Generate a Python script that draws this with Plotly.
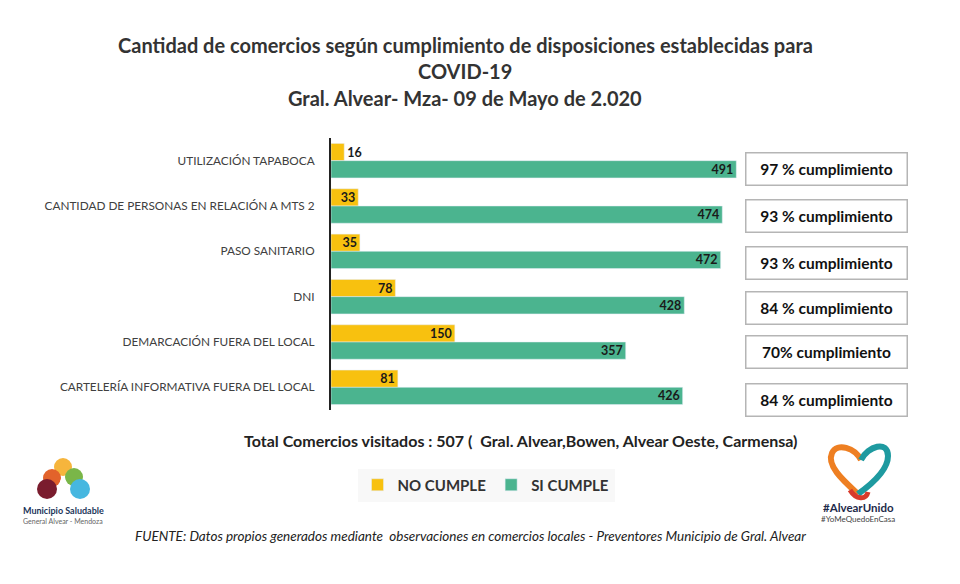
import plotly.graph_objects as go

# %%
categories = [
    "UTILIZACIÓN TAPABOCA",
    "CANTIDAD DE PERSONAS EN RELACIÓN A MTS 2",
    "PASO SANITARIO",
    "DNI",
    "DEMARCACIÓN FUERA DEL LOCAL",
    "CARTELERÍA INFORMATIVA FUERA DEL LOCAL",
]
no_cumple = [16, 33, 35, 78, 150, 81]
si_cumple = [491, 474, 472, 428, 357, 426]
cumplimiento = [
    "97 % cumplimiento",
    "93 % cumplimiento",
    "93 % cumplimiento",
    "84 % cumplimiento",
    "70% cumplimiento",
    "84 % cumplimiento",
]
title_lines = [
    "Cantidad de comercios según cumplimiento de disposiciones establecidas para",
    "COVID-19",
    "Gral. Alvear- Mza- 09 de Mayo de 2.020",
]
total_text = "Total Comercios visitados : 507 (  Gral. Alvear,Bowen, Alvear Oeste, Carmensa)"
fuente_text = "FUENTE: Datos propios generados mediante  observaciones en comercios locales - Preventores Municipio de Gral. Alvear"

W, H = 960, 584
FONT = "Lato"
YELLOW = "#F8C10F"
GREEN = "#4BB48F"
VALUE_FONT = dict(family=FONT, size=12.5, color="#1a1a1a", weight="bold")


def px(x):
    return x / W


def py(y):
    return 1 - y / H


# %%
fig = go.Figure()
fig.add_trace(
    go.Bar(
        y=categories,
        x=no_cumple,
        name="NO CUMPLE",
        orientation="h",
        marker_color=YELLOW,
        text=no_cumple,
        textposition="auto",
        textangle=0,
        insidetextanchor="end",
        constraintext="none",
        textfont=VALUE_FONT,
        insidetextfont=VALUE_FONT,
        outsidetextfont=VALUE_FONT,
        cliponaxis=False,
    )
)
fig.add_trace(
    go.Bar(
        y=categories,
        x=si_cumple,
        name="SI CUMPLE",
        orientation="h",
        marker_color=GREEN,
        text=si_cumple,
        textposition="inside",
        textangle=0,
        insidetextanchor="end",
        constraintext="none",
        insidetextfont=VALUE_FONT,
    )
)

fig.update_layout(
    width=W,
    height=H,
    margin=dict(l=0, r=0, t=0, b=0),
    paper_bgcolor="white",
    plot_bgcolor="white",
    barmode="group",
    bargap=0.24,
    bargroupgap=0,
    font=dict(family=FONT, color="#333333"),
    legend=dict(
        orientation="h",
        x=px(486),
        y=py(485),
        xanchor="center",
        yanchor="middle",
        bgcolor="#f8f8f8",
        font=dict(family=FONT, size=15, color="#333333", weight="bold"),
        itemwidth=30,
        traceorder="normal",
    ),
    xaxis=dict(
        domain=[px(331), px(785)],
        range=[0, 550],
        visible=False,
        automargin=False,
    ),
    yaxis=dict(
        domain=[py(410), py(138)],
        autorange="reversed",
        showline=True,
        linecolor="#222222",
        linewidth=2,
        showgrid=False,
        ticks="",
        ticklabelstandoff=12,
        tickfont=dict(family=FONT, size=11.8, color="#404040"),
        automargin=False,
    ),
)

# titles
for text, yy in zip(title_lines, [45, 71, 98]):
    fig.add_annotation(
        text=text, xref="paper", yref="paper", x=px(465), y=py(yy),
        xanchor="center", yanchor="middle", showarrow=False,
        font=dict(family=FONT, size=20, color="#333333", weight="bold"),
    )

# compliance boxes
box_y = [169, 216, 263, 308, 352, 400]
for text, yy in zip(cumplimiento, box_y):
    fig.add_annotation(
        text=text, xref="paper", yref="paper", x=px(826), y=py(yy),
        xanchor="center", yanchor="middle", showarrow=False,
        width=154, height=25, borderpad=3,
        bordercolor="#b5b5b5", borderwidth=1.5, bgcolor="white",
        font=dict(family=FONT, size=15.5, color="#111111", weight="bold"),
    )

fig.add_annotation(
    text=total_text, xref="paper", yref="paper", x=px(520), y=py(440),
    xanchor="center", yanchor="middle", showarrow=False,
    font=dict(family=FONT, size=16, color="#222222", weight="bold"),
)
fig.add_annotation(
    text=fuente_text, xref="paper", yref="paper", x=px(470), y=py(536),
    xanchor="center", yanchor="middle", showarrow=False,
    font=dict(family=FONT, size=13.5, color="#222222", style="italic"),
)

# left logo: Municipio Saludable
petals = [
    (63, 467, 9, "#F6B53C"),
    (52, 478, 9, "#E2632B"),
    (74, 477, 9, "#7AB648"),
    (47, 489, 10, "#7A1C2E"),
    (80, 489, 10, "#46B7E0"),
    (63, 482, 3, "#ffffff"),
]
for cx, cy, r, col in petals:
    fig.add_shape(
        type="circle", xref="paper", yref="paper",
        x0=px(cx - r), x1=px(cx + r), y0=py(cy + r), y1=py(cy - r),
        fillcolor=col, line_width=0, layer="above",
    )
fig.add_annotation(
    text="Municipio Saludable", xref="paper", yref="paper", x=px(63), y=py(510),
    xanchor="center", yanchor="middle", showarrow=False,
    font=dict(family=FONT, size=9, color="#22365a", weight="bold"),
)
fig.add_annotation(
    text="General Alvear - Mendoza", xref="paper", yref="paper", x=px(63), y=py(521),
    xanchor="center", yanchor="middle", showarrow=False,
    font=dict(family=FONT, size=7, color="#666666"),
)


# right logo: heart
def path(points):
    out = []
    for p in points:
        if isinstance(p, str):
            out.append(p)
        else:
            out.append(f"{px(p[0]):.5f},{py(p[1]):.5f}")
    return " ".join(out)


left_half = path(["M", (858, 494), "C", (845, 482), (826, 466), (832, 453), "C", (837, 442), (855, 448), (861, 460)])
right_half = path(["M", (861, 460), "C", (868, 446), (888, 440), (888, 456), "C", (888, 470), (872, 484), (858, 494)])
fig.add_shape(type="path", xref="paper", yref="paper", path=left_half,
              line=dict(color="#EE7F22", width=6), layer="above")
fig.add_shape(type="path", xref="paper", yref="paper", path=right_half,
              line=dict(color="#1E9AA0", width=6), layer="above")
fig.add_shape(type="path", xref="paper", yref="paper",
              path=path(["M", (850, 490), "C", (856, 500), (866, 500), (868, 492)]),
              line=dict(color="#D83A2B", width=5), layer="above")
fig.add_annotation(
    text="#AlvearUnido", xref="paper", yref="paper", x=px(858), y=py(507),
    xanchor="center", yanchor="middle", showarrow=False,
    font=dict(family=FONT, size=11.5, color="#1e2a4a", weight="bold"),
)
fig.add_annotation(
    text="#YoMeQuedoEnCasa", xref="paper", yref="paper", x=px(858), y=py(519),
    xanchor="center", yanchor="middle", showarrow=False,
    font=dict(family=FONT, size=8, color="#444444"),
)

# drop the default page margin so figure pixels line up with the window
fig.write_html(
    "out.html",
    config={"displayModeBar": False},
    post_script="document.body.style.margin='0';",
)
